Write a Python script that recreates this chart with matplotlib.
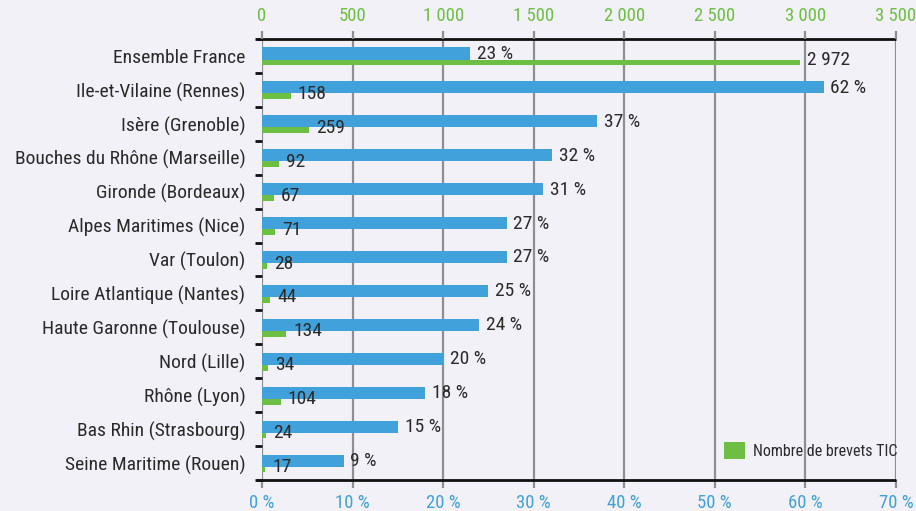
import matplotlib
matplotlib.use("Agg")
import matplotlib.pyplot as plt
from matplotlib.patches import Patch
import numpy as np

categories = ["Ensemble France", "Ile-et-Vilaine (Rennes)", "Isère (Grenoble)",
              "Bouches du Rhône (Marseille)", "Gironde (Bordeaux)",
              "Alpes Maritimes (Nice)", "Var (Toulon)", "Loire Atlantique (Nantes)",
              "Haute Garonne (Toulouse)", "Nord (Lille)", "Rhône (Lyon)",
              "Bas Rhin (Strasbourg)", "Seine Maritime (Rouen)"]
pct = [23, 62, 37, 32, 31, 27, 27, 25, 24, 20, 18, 15, 9]
counts = [2972, 158, 259, 92, 67, 71, 28, 44, 134, 34, 104, 24, 17]
pct_ticks = [0, 10, 20, 30, 40, 50, 60, 70]
count_ticks = [0, 500, 1000, 1500, 2000, 2500, 3000, 3500]
legend_label = "Nombre de brevets TIC"

plt.rcParams['font.family'] = ['Roboto Condensed', 'DejaVu Sans']

BG = "#f2f1f7"
BLUE = "#40a1db"
GREEN = "#6dbf44"
TXT = "#2a2a2a"
GRID = "#8f8f93"
FS = 14

def fmt_thousands(v):
    return f"{v:,}".replace(",", " ")

fig = plt.figure(figsize=(9.16, 5.11), dpi=100, facecolor=BG)
ax = fig.add_axes([262/916, 31/511, 634/916, 441/511])
ax.set_facecolor(BG)
ax2 = ax.twiny()

n = len(categories)
y = np.arange(n)

ax.barh(y - 0.073, pct, height=0.355, color=BLUE, zorder=3)
ax2.barh(y + 0.19, counts, height=0.17, color=GREEN, zorder=3, label=legend_label)

ax.set_xlim(0, 70)
ax2.set_xlim(0, 3500)
ax.set_ylim(n - 0.5, -0.5)

for i, v in enumerate(pct):
    ax.annotate(f"{v} %", (v, i - 0.06), xytext=(5, 0), textcoords="offset points",
                va="center", ha="left", fontsize=FS, color=TXT, zorder=5)
for i, v in enumerate(counts):
    ax2.annotate(fmt_thousands(v), (v, i + 0.12), xytext=(5, 0), textcoords="offset points",
                 va="center", ha="left", fontsize=FS, color=TXT, zorder=5)

# bottom axis (percent)
ax.set_xticks(pct_ticks)
ax.set_xticklabels([f"{t} %" for t in pct_ticks], color=BLUE, fontsize=13.5)
ax.tick_params(axis="x", colors=GRID, labelcolor=BLUE, length=6, width=1.6, pad=4)
ax.xaxis.grid(True, color=GRID, linewidth=1.6, zorder=1)
ax.set_axisbelow(True)

# top axis (counts)
ax2.set_xticks(count_ticks)
ax2.set_xticklabels([fmt_thousands(t) for t in count_ticks], color=GREEN, fontsize=13.5)
ax2.tick_params(axis="x", colors=GRID, labelcolor=GREEN, length=6, width=1.6, pad=4)

# y axis
ax.set_yticks(y)
ax.set_yticklabels(categories, fontsize=FS, color=TXT)
ax.set_yticks(np.arange(n + 1) - 0.5, minor=True)
ax.tick_params(axis="y", which="major", length=0, pad=12)
ax.tick_params(axis="y", which="minor", length=5, width=2, color="#111111")

for a in (ax, ax2):
    for s in a.spines.values():
        s.set_visible(False)

# black horizontal lines top & bottom extending slightly left
ext = -5 / 634
for yy in (0, 1):
    ax.plot([ext, 1], [yy, yy], transform=ax.transAxes, color="#111111",
            linewidth=2, clip_on=False, zorder=6, solid_capstyle="butt")

leg = ax2.legend(handles=[Patch(facecolor=GREEN)], labels=[legend_label],
                 loc="lower right", bbox_to_anchor=(1.0 + 8/634, 0.032), frameon=False,
                 fontsize=11.5, handlelength=1.3, handleheight=1.3, handletextpad=0.5,
                 borderaxespad=0)
for t in leg.get_texts():
    t.set_color(TXT)

fig.savefig("out.png", dpi=100, facecolor=BG)
